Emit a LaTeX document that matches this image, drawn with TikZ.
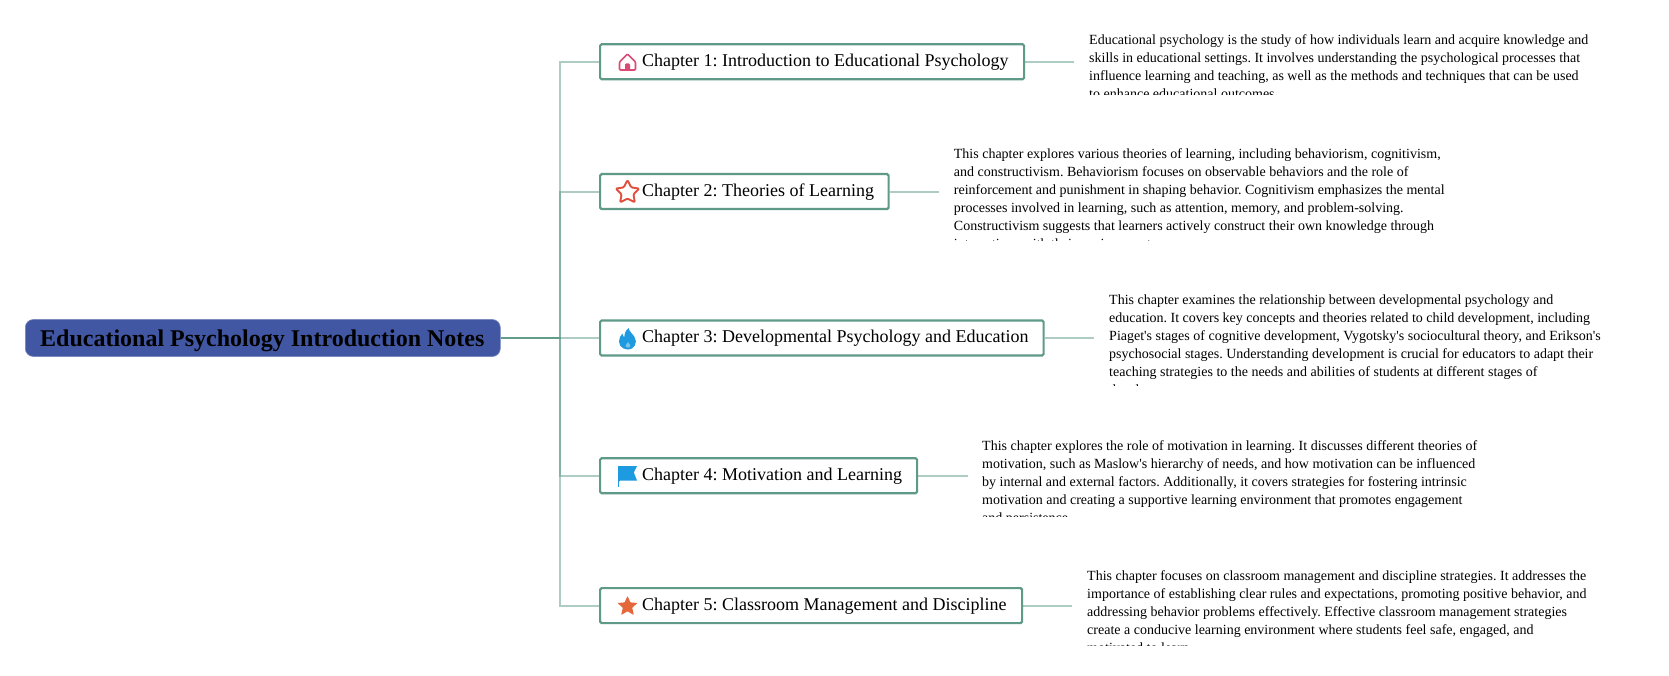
\documentclass[tikz,border=0pt]{standalone}
\usepackage{fontspec}
\setmainfont{Liberation Serif}
\frenchspacing
\definecolor{linkc}{HTML}{5F9A88}
\definecolor{boxc}{HTML}{5F9A88}
\definecolor{rootc}{HTML}{4257A3}
\definecolor{homec}{HTML}{D94A75}
\definecolor{starc}{HTML}{E0503F}
\definecolor{bluec}{HTML}{1E9AE0}
\definecolor{orangec}{HTML}{E4673A}
\tikzset{
  link/.style={draw=linkc,line width=2pt,draw opacity=.5},
  rootbox/.style={fill=rootc,draw=rootc!70!white,line width=.6pt,rounded corners=8pt,minimum height=37pt,inner sep=0pt,anchor=west},
  roottext/.style={font=\fontsize{24}{30}\selectfont\bfseries,text=black,inner sep=0pt,anchor=base west},
  chapbox/.style={fill=white,draw=boxc,line width=2.2pt,rounded corners=1.5pt,minimum height=35pt,inner sep=0pt,anchor=west},
  chaptext/.style={font=\fontsize{18}{23}\selectfont,text=black,inner sep=0pt,anchor=base west},
  note/.style={font=\fontsize{14}{18.1}\selectfont,text=black,inner sep=0pt,anchor=north west,align=left},
}
\begin{document}
\begin{tikzpicture}[x=1pt,y=-1pt]
\useasboundingbox[fill=white] (0,0) rectangle (1669,676);
\coordinate (tr) at (560,338);
\coordinate (s1) at (1074,61.7);
\coordinate (s2) at (939,191.6);
\coordinate (s3) at (1094,338);
\coordinate (s4) at (967.5,475.8);
\coordinate (s5) at (1072,605.6);
% boxes
\node[rootbox,minimum width=475pt] (root) at (25,338) {};
\node[chapbox,minimum width=424pt] (ch1) at (599,61.7) {};
\node[chapbox,minimum width=288.5pt] (ch2) at (599,191.6) {};
\node[chapbox,minimum width=443.5pt] (ch3) at (599,338) {};
\node[chapbox,minimum width=317pt] (ch4) at (599,475.8) {};
\node[chapbox,minimum width=422pt] (ch5) at (599,605.6) {};
% connectors
\foreach \c in {ch1,ch2,ch3,ch4,ch5}{
  \draw[link] (root.east) -- (tr |- root.east) |- (\c.west);
}
\draw[link] (ch1.east) -- (s1);
\draw[link] (ch2.east) -- (s2);
\draw[link] (ch3.east) -- (s3);
\draw[link] (ch4.east) -- (s4);
\draw[link] (ch5.east) -- (s5);
% labels
\node[roottext] (rt) at (40,346.5) {Educational Psychology Introduction Notes};
\node[chaptext] (t1) at (642,66.5) {Chapter 1: Introduction to Educational Psychology};
\node[chaptext] (t2) at (642,196.4) {Chapter 2: Theories of Learning};
\node[chaptext] (t3) at (642,342.8) {Chapter 3: Developmental Psychology and Education};
\node[chaptext] (t4) at (642,480.6) {Chapter 4: Motivation and Learning};
\node[chaptext] (t5) at (642,610.4) {Chapter 5: Classroom Management and Discipline};
% notes
\begin{scope}
\clip (1080,25) rectangle (1640,94.7);
\node[note] (n1) at (1089,31.3) {\strut Educational psychology is the study of how individuals learn and acquire knowledge and\\
skills in educational settings. It involves understanding the psychological processes that\\
influence learning and teaching, as well as the methods and techniques that can be used\\
to enhance educational outcomes.};
\end{scope}
\begin{scope}
\clip (945,135) rectangle (1500,240.5);
\node[note] (n2) at (953.7,145.2) {\strut This chapter explores various theories of learning, including behaviorism, cognitivism,\\
and constructivism. Behaviorism focuses on observable behaviors and the role of\\
reinforcement and punishment in shaping behavior. Cognitivism emphasizes the mental\\
processes involved in learning, such as attention, memory, and problem-solving.\\
Constructivism suggests that learners actively construct their own knowledge through\\
interactions with their environment.};
\end{scope}
\begin{scope}
\clip (1100,280) rectangle (1660,385);
\node[note] (n3) at (1109,291.2) {\strut This chapter examines the relationship between developmental psychology and\\
education. It covers key concepts and theories related to child development, including\\
Piaget\textquotesingle s stages of cognitive development, Vygotsky\textquotesingle s sociocultural theory, and Erikson\textquotesingle s\\
psychosocial stages. Understanding development is crucial for educators to adapt their\\
teaching strategies to the needs and abilities of students at different stages of\\
development.};
\end{scope}
\begin{scope}
\clip (975,425) rectangle (1530,516);
\node[note] (n4) at (982,437.2) {\strut This chapter explores the role of motivation in learning. It discusses different theories of\\
motivation, such as Maslow\textquotesingle s hierarchy of needs, and how motivation can be influenced\\
by internal and external factors. Additionally, it covers strategies for fostering intrinsic\\
motivation and creating a supportive learning environment that promotes engagement\\
and persistence.};
\end{scope}
\begin{scope}
\clip (1080,555) rectangle (1640,645);
\node[note] (n5) at (1087,567.4) {\strut This chapter focuses on classroom management and discipline strategies. It addresses the\\
importance of establishing clear rules and expectations, promoting positive behavior, and\\
addressing behavior problems effectively. Effective classroom management strategies\\
create a conducive learning environment where students feel safe, engaged, and\\
motivated to learn.};
\end{scope}
% home icon
\draw[homec,line width=1.6pt,line join=round,rounded corners=1pt] (619.5,62) -- (627.5,54) -- (635.5,62) -- (635.5,70) -- (619.5,70) -- cycle;
\fill[homec,rounded corners=1.2pt] (625,70.5) -- (625,63.5) -- (630,63.5) -- (630,70.5) -- cycle;
% outline star
\draw[starc,line width=1.9pt,line join=round,rounded corners=1.2pt]
  (627.5,180) -- (631.2,187.4) -- (639.3,188.6) -- (633.4,194.3) -- (634.9,202.4) -- (627.5,198.6) -- (620.1,202.4) -- (621.6,194.3) -- (615.7,188.6) -- (623.8,187.4) -- cycle;
% flame icon
\fill[bluec] (628.5,328) .. controls (629.5,332) and (632.5,333.5) .. (634.5,337)
  .. controls (638,342.5) and (634.5,349.5) .. (627.5,349.5)
  .. controls (621,349.5) and (617,343) .. (620,337)
  .. controls (620.8,335.5) and (621.5,334.5) .. (622.5,333.5)
  .. controls (622.8,335.5) and (623.2,336.5) .. (624.3,337.3)
  .. controls (624.5,333.5) and (625.5,330.5) .. (628.5,328) -- cycle;
\fill[white,opacity=.4] (628,342) .. controls (629.5,344) and (630.5,345) .. (630.3,346.3)
  .. controls (630,348) and (626,348) .. (625.7,346.3)
  .. controls (625.5,345) and (626.5,344) .. (628,342) -- cycle;
% flag icon
\fill[bluec] (618,466) -- (637,466) -- (633.8,472.5) -- (637,480.5) -- (620,480.5) -- (618.8,482) -- cycle;
\draw[bluec,line width=.6pt] (618.4,466) -- (618.4,487);
% filled star
\fill[orangec,rounded corners=.6pt]
  (627.5,596) -- (630.4,602.4) -- (637.5,603) -- (632.2,607.7) -- (633.8,615) -- (627.5,611.2) -- (621.2,615) -- (622.8,607.7) -- (617.5,603) -- (624.6,602.4) -- cycle;
\end{tikzpicture}
\end{document}
